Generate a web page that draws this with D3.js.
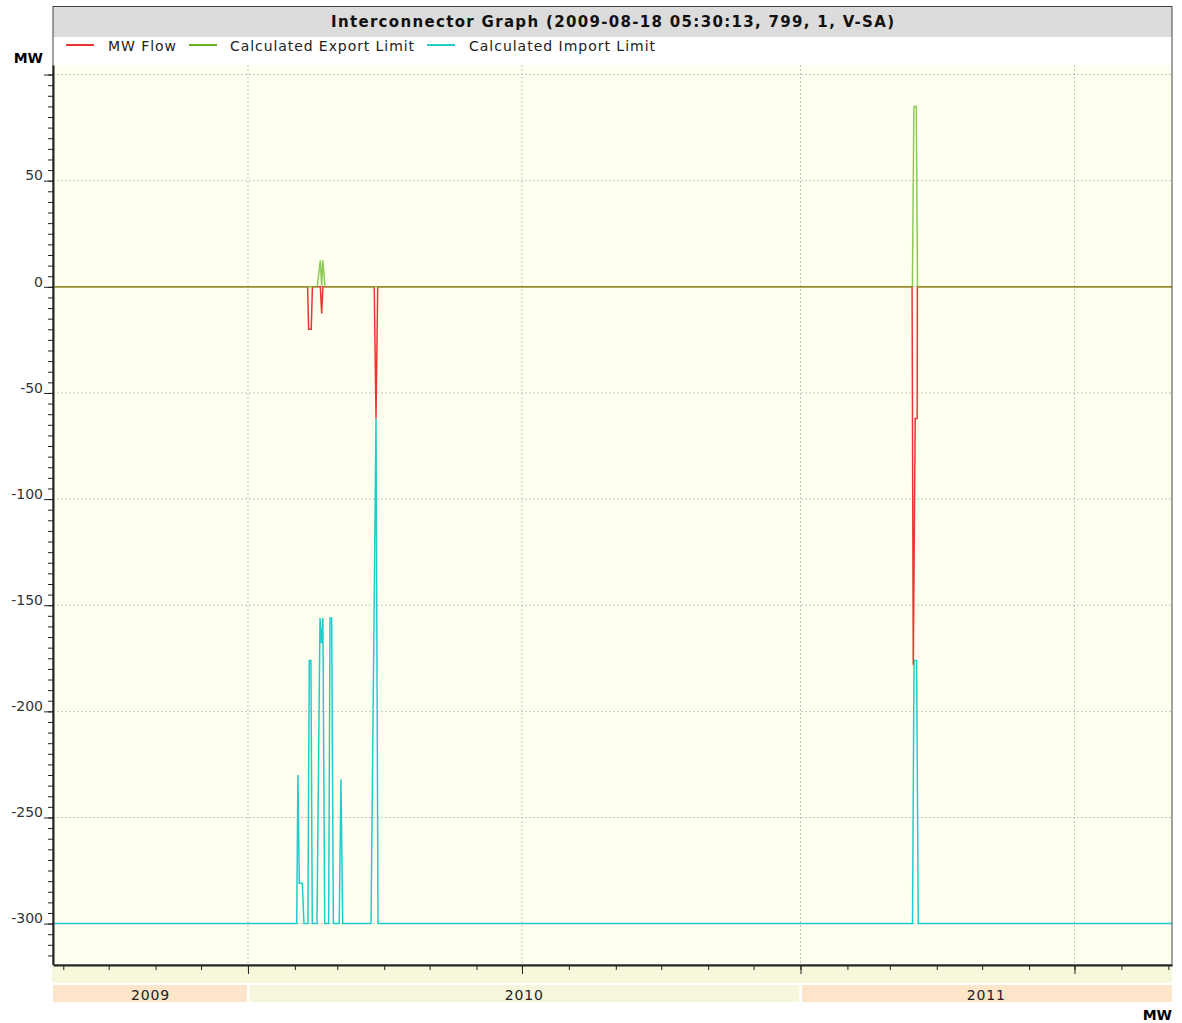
<!DOCTYPE html>
<html>
<head>
<meta charset="utf-8">
<script src="https://cdn.jsdelivr.net/npm/d3@7"></script>
<style>
  body { margin: 0; background: #fff; }
  text { font-family: "DejaVu Sans", Verdana, sans-serif; }
</style>
</head>
<body>
<script>
const width = 1182, height = 1023;

// x domain of the chart
const xRange = ["2009-08-25T05:00", "2011-09-03T10:00"];

const seriesNames = ["MW Flow", "Calculated Export Limit", "Calculated Import Limit"];

const mwFlow = [
  ["2009-08-25T05:00", 0],
  ["2010-02-09T10:00", 0],
  ["2010-02-10T02:00", -20],
  ["2010-02-11T19:00", -20],
  ["2010-02-12T14:00", 0],
  ["2010-02-17T19:00", 0],
  ["2010-02-18T17:00", -12.5],
  ["2010-02-19T12:00", 0],
  ["2010-03-25T10:00", 0],
  ["2010-03-26T14:00", -62],
  ["2010-03-27T17:00", 0],
  ["2011-03-15T17:00", 0],
  ["2011-03-16T12:00", -178],
  ["2011-03-17T19:00", -62],
  ["2011-03-19T02:00", -62],
  ["2011-03-19T05:00", 0],
  ["2011-09-03T10:00", 0]
];

const exportLimit = [
  ["2009-08-25T05:00", 0],
  ["2010-02-15T19:00", 0],
  ["2010-02-17T19:00", 12.5],
  ["2010-02-18T17:00", 0],
  ["2010-02-19T10:00", 12.5],
  ["2010-02-20T22:00", 0],
  ["2011-03-15T22:00", 0],
  ["2011-03-16T22:00", 85],
  ["2011-03-18T12:00", 85],
  ["2011-03-19T07:00", 0],
  ["2011-09-03T10:00", 0]
];

const importLimit = [
  ["2009-08-25T05:00", -300],
  ["2010-02-02T05:00", -300],
  ["2010-02-03T00:00", -230],
  ["2010-02-03T22:00", -281],
  ["2010-02-05T22:00", -281],
  ["2010-02-07T00:00", -300],
  ["2010-02-09T14:00", -300],
  ["2010-02-10T12:00", -176],
  ["2010-02-11T14:00", -176],
  ["2010-02-12T12:00", -300],
  ["2010-02-15T14:00", -300],
  ["2010-02-17T14:00", -156],
  ["2010-02-18T14:00", -168],
  ["2010-02-19T12:00", -156],
  ["2010-02-20T17:00", -300],
  ["2010-02-23T07:00", -300],
  ["2010-02-24T05:00", -156],
  ["2010-02-25T07:00", -156],
  ["2010-02-26T10:00", -300],
  ["2010-03-02T07:00", -300],
  ["2010-03-03T10:00", -232],
  ["2010-03-04T14:00", -300],
  ["2010-03-23T07:00", -300],
  ["2010-03-26T14:00", -62],
  ["2010-03-27T22:00", -300],
  ["2011-03-16T00:00", -300],
  ["2011-03-17T00:00", -176],
  ["2011-03-18T17:00", -176],
  ["2011-03-19T19:00", -300],
  ["2011-09-03T10:00", -300]
];

const yDomain = [-319.5, 104.5];
const yLabels = [50, 0, -50, -100, -150, -200, -250, -300];
const yMajor = [100, 50, 0, -50, -100, -150, -200, -250, -300];
const years = [
  ["2009", "2009-08-25T05:00", "2010-01-01T00:00"],
  ["2010", "2010-01-01T00:00", "2011-01-01T00:00"],
  ["2011", "2011-01-01T00:00", "2011-09-03T10:00"]
];

const title = "Interconnector Graph (2009-08-18 05:30:13, 799, 1, V-SA)";
const colors = ["#ee3333", "#66b822", "#22cccc"];

const parse = d3.timeParse("%Y-%m-%dT%H:%M");
const pLeft = 53, pRight = 1172, pTop = 65, pBottom = 965;

const svg = d3.select("body").append("svg")
  .attr("width", width)
  .attr("height", height);

const x = d3.scaleTime()
  .domain(xRange.map(parse))
  .range([pLeft, pRight]);

const y = d3.scaleLinear()
  .domain(yDomain)
  .range([pBottom, pTop]);

// title bar
svg.append("rect")
  .attr("x", pLeft).attr("y", 7)
  .attr("width", pRight - pLeft).attr("height", 30)
  .attr("fill", "#dcdcdc");

svg.append("text")
  .attr("x", (pLeft + pRight) / 2).attr("y", 27)
  .attr("text-anchor", "middle")
  .attr("font-size", 15).attr("font-weight", "bold")
  .attr("fill", "#111")
  .attr("textLength", 563).attr("lengthAdjust", "spacing")
  .text(title);

// plot background
svg.append("rect")
  .attr("x", pLeft).attr("y", pTop)
  .attr("width", pRight - pLeft).attr("height", pBottom - pTop)
  .attr("fill", "#fffff0");

// grid
const xMajorTicks = d3.timeMonth.every(6).range(x.domain()[0], x.domain()[1]);
svg.append("g").selectAll("line")
  .data(xMajorTicks)
  .enter().append("line")
    .attr("x1", d => x(d)).attr("x2", d => x(d))
    .attr("y1", pTop).attr("y2", pBottom)
    .attr("stroke", "#c4c4c4").attr("stroke-dasharray", "2,2");

svg.append("g").selectAll("line")
  .data(yMajor)
  .enter().append("line")
    .attr("x1", pLeft).attr("x2", pRight)
    .attr("y1", d => y(d)).attr("y2", d => y(d))
    .attr("stroke", "#c4c4c4").attr("stroke-dasharray", "2,2");

// series
const line = d3.line()
  .x(d => x(parse(d[0])))
  .y(d => y(d[1]));

[importLimit, mwFlow, exportLimit].forEach(function(s, i) {
  const ci = [2, 0, 1][i];
  svg.append("path")
    .datum(s)
    .attr("d", line)
    .attr("fill", "none")
    .attr("stroke", colors[ci])
    .attr("stroke-width", 1.5)
    .attr("stroke-opacity", ci == 1 ? 0.75 : 1);
});

// legend
const legendX = [[66, 108, 68], [189, 230, 184], [427, 469, 186]];
seriesNames.forEach(function(name, i) {
  svg.append("line")
    .attr("x1", legendX[i][0]).attr("x2", legendX[i][0] + 28)
    .attr("y1", 45).attr("y2", 45)
    .attr("stroke", colors[i]).attr("stroke-width", 2);
  svg.append("text")
    .attr("x", legendX[i][1]).attr("y", 51)
    .attr("font-size", 14).attr("fill", "#222")
    .attr("textLength", legendX[i][2]).attr("lengthAdjust", "spacing")
    .text(name);
});

// frame
svg.append("rect")
  .attr("x", pLeft).attr("y", 6.5)
  .attr("width", pRight - pLeft).attr("height", pBottom - 6.5)
  .attr("fill", "none").attr("stroke", "#444");

// y axis
const yMinor = d3.range(-315, 105, 5);
svg.append("g")
  .attr("transform", `translate(${pLeft},0)`)
  .call(d3.axisLeft(y).tickValues(yMinor).tickSize(5).tickSizeOuter(0).tickFormat(""))
  .call(g => g.select(".domain").remove())
  .call(g => g.selectAll("line").attr("stroke", "#222"));

svg.append("g")
  .attr("transform", `translate(${pLeft},0)`)
  .call(d3.axisLeft(y).tickValues(yMajor).tickSize(9).tickSizeOuter(0)
    .tickFormat(d => yLabels.includes(d) ? d : ""))
  .call(g => g.select(".domain").attr("stroke", "#222").attr("stroke-width", 2))
  .call(g => g.selectAll("line").attr("stroke", "#222"))
  .call(g => g.selectAll("text")
    .attr("x", -10).attr("dy", "-0.05em")
    .attr("font-size", 14).attr("fill", "#333")
    .attr("font-family", "DejaVu Sans, Verdana, sans-serif"));

svg.append("text")
  .attr("x", 43).attr("y", 63)
  .attr("text-anchor", "end")
  .attr("font-size", 14).attr("font-weight", "bold")
  .text("MW");

// x axis band
svg.append("rect")
  .attr("x", pLeft - 1).attr("y", pBottom)
  .attr("width", pRight - pLeft + 1).attr("height", 18)
  .attr("fill", "#f7f7dc");

svg.append("g")
  .attr("transform", `translate(0,${pBottom})`)
  .call(d3.axisBottom(x).ticks(d3.timeMonth.every(1)).tickSize(5).tickSizeOuter(0).tickFormat(""))
  .call(g => g.select(".domain").remove())
  .call(g => g.selectAll("line").attr("stroke", "#222"));

svg.append("g")
  .attr("transform", `translate(0,${pBottom})`)
  .call(d3.axisBottom(x).ticks(d3.timeMonth.every(6)).tickSize(9).tickSizeOuter(0).tickFormat(""))
  .call(g => g.select(".domain").attr("stroke", "#222").attr("stroke-width", 2))
  .call(g => g.selectAll("line").attr("stroke", "#222"));

// year band
const yearG = svg.append("g").selectAll("g")
  .data(years)
  .enter().append("g");

yearG.append("rect")
  .attr("x", (d, i) => x(parse(d[1])) + (i ? 1.5 : 0))
  .attr("y", 985)
  .attr("width", (d, i) => x(parse(d[2])) - x(parse(d[1])) - (i ? 1.5 : 0) - (i < 2 ? 1 : 0))
  .attr("height", 17)
  .attr("fill", (d, i) => i == 1 ? "#f6f6dc" : "#fde5c9");

yearG.append("text")
  .attr("x", d => (x(parse(d[1])) + x(parse(d[2]))) / 2)
  .attr("y", 1000)
  .attr("text-anchor", "middle")
  .attr("font-size", 14).attr("fill", "#222")
  .attr("letter-spacing", 0.8)
  .text(d => d[0]);

svg.append("text")
  .attr("x", pRight).attr("y", 1020)
  .attr("text-anchor", "end")
  .attr("font-size", 14).attr("font-weight", "bold")
  .text("MW");
</script>
</body>
</html>
